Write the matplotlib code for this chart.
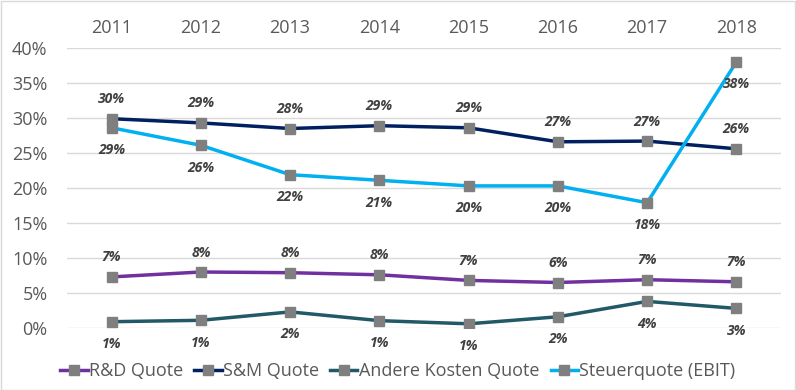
import matplotlib
matplotlib.use("Agg")
import matplotlib.pyplot as plt
from matplotlib.patches import Rectangle

years = ["2011", "2012", "2013", "2014", "2015", "2016", "2017", "2018"]
rd = [7.3, 8.0, 7.9, 7.6, 6.8, 6.5, 6.9, 6.6]
sm = [29.9, 29.3, 28.5, 28.9, 28.6, 26.6, 26.7, 25.6]
andere = [0.9, 1.1, 2.3, 1.05, 0.6, 1.6, 3.8, 2.8]
steuer = [28.6, 26.1, 21.9, 21.1, 20.3, 20.3, 17.9, 38.0]
yticks = [0, 5, 10, 15, 20, 25, 30, 35, 40]

series = [
    ("R&D Quote", rd, "#7030A0", "above"),
    ("S&M Quote", sm, "#002060", "above"),
    ("Andere Kosten Quote", andere, "#215967", "below"),
    ("Steuerquote (EBIT)", steuer, "#00B0F0", "below"),
]

plt.rcParams['font.family'] = ['Open Sans', 'DejaVu Sans']
fig = plt.figure(figsize=(7.96, 3.90), dpi=100)
ax = fig.add_axes([67/796, 62/390, 714/796, 280/390])
x = list(range(len(years)))
for name, vals, col, pos in series:
    ax.plot(x, vals, color=col, lw=2.5, marker="s", markersize=7,
            markerfacecolor="#7F7F7F", markeredgecolor="#7F7F7F", label=name, zorder=3)
    for xi, v in zip(x, vals):
        off = 14 if pos == "above" else -16
        ax.annotate(f"{round(v):.0f}%", (xi, v), xytext=(0, off), textcoords="offset points",
                    ha="center", va="center", fontsize=10, fontweight="bold", fontstyle="italic",
                    color="#404040", zorder=4)

ax.set_xlim(-0.5, len(years) - 0.5)
ax.set_ylim(0, 40)
ax.set_yticks(yticks)
ax.set_yticklabels([f"{t}%" for t in yticks])
ax.set_xticks(x)
ax.set_xticklabels(years)
ax.xaxis.tick_top()
ax.tick_params(axis="both", length=0, labelsize=13, colors="#595959")
ax.tick_params(axis="y", pad=14)
ax.tick_params(axis="x", pad=8)
ax.grid(axis="y", color="#D9D9D9", lw=1)
ax.set_axisbelow(True)
for s in ax.spines.values():
    s.set_visible(False)

leg = fig.legend(loc="center", bbox_to_anchor=(0.5, 19/390), ncol=4, frameon=False,
                 fontsize=13, handlelength=1.5, columnspacing=0.6, handletextpad=0.1,
                 labelcolor="#595959")
fig.patches.append(Rectangle((0.5/796, 0.5/390), 1 - 1.5/796, 1 - 1.5/390,
                             transform=fig.transFigure, fill=False, edgecolor="#D9D9D9", lw=1))
fig.savefig("out.png", dpi=100)
